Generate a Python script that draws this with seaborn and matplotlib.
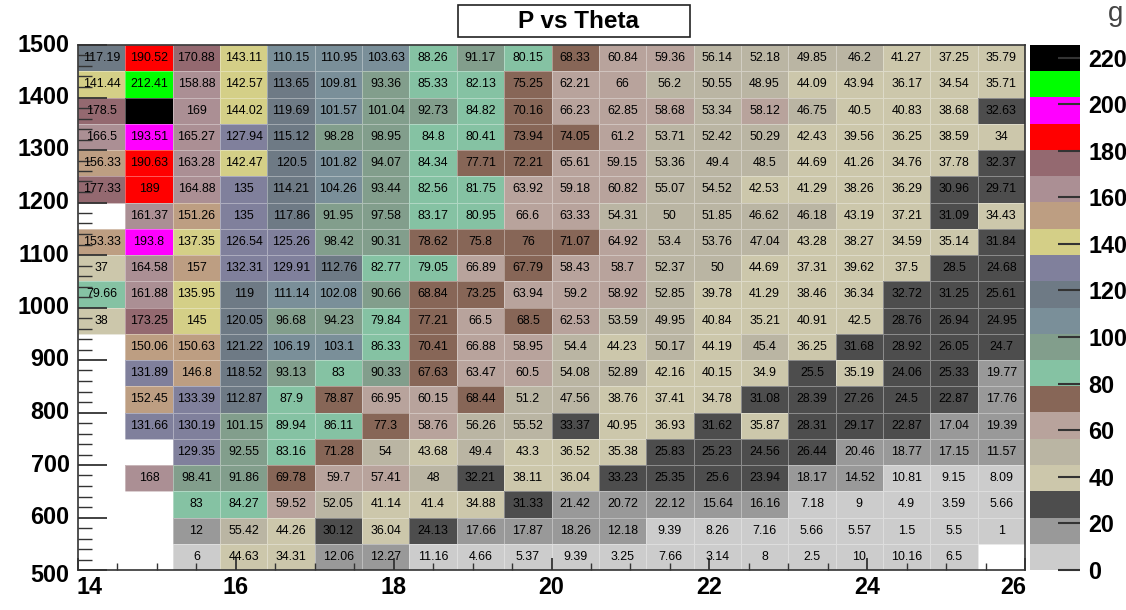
import numpy as np
import pandas as pd
import matplotlib
matplotlib.use("Agg")
import matplotlib.pyplot as plt
import matplotlib.transforms as mtransforms
from matplotlib.colors import ListedColormap
from matplotlib.patches import Rectangle
import seaborn as sns

# ---------------- data ----------------
theta_centers = [14.3, 14.9, 15.5, 16.1, 16.7, 17.3, 17.9, 18.5, 19.1, 19.7,
                 20.3, 20.9, 21.5, 22.1, 22.7, 23.3, 23.9, 24.5, 25.1, 25.7]
p_centers = [1475, 1425, 1375, 1325, 1275, 1225, 1175, 1125, 1075, 1025,
             975, 925, 875, 825, 775, 725, 675, 625, 575, 525]
N = None
values = [
    [117.19, 190.52, 170.88, 143.11, 110.15, 110.95, 103.63, 88.26, 91.17, 80.15, 68.33, 60.84, 59.36, 56.14, 52.18, 49.85, 46.2, 41.27, 37.25, 35.79],
    [141.44, 212.41, 158.88, 142.57, 113.65, 109.81, 93.36, 85.33, 82.13, 75.25, 62.21, 66, 56.2, 50.55, 48.95, 44.09, 43.94, 36.17, 34.54, 35.71],
    [178.5, 225.4, 169, 144.02, 119.69, 101.57, 101.04, 92.73, 84.82, 70.16, 66.23, 62.85, 58.68, 53.34, 58.12, 46.75, 40.5, 40.83, 38.68, 32.63],
    [166.5, 193.51, 165.27, 127.94, 115.12, 98.28, 98.95, 84.8, 80.41, 73.94, 74.05, 61.2, 53.71, 52.42, 50.29, 42.43, 39.56, 36.25, 38.59, 34],
    [156.33, 190.63, 163.28, 142.47, 120.5, 101.82, 94.07, 84.34, 77.71, 72.21, 65.61, 59.15, 53.36, 49.4, 48.5, 44.69, 41.26, 34.76, 37.78, 32.37],
    [177.33, 189, 164.88, 135, 114.21, 104.26, 93.44, 82.56, 81.75, 63.92, 59.18, 60.82, 55.07, 54.52, 42.53, 41.29, 38.26, 36.29, 30.96, 29.71],
    [N, 161.37, 151.26, 135, 117.86, 91.95, 97.58, 83.17, 80.95, 66.6, 63.33, 54.31, 50, 51.85, 46.62, 46.18, 43.19, 37.21, 31.09, 34.43],
    [153.33, 193.8, 137.35, 126.54, 125.26, 98.42, 90.31, 78.62, 75.8, 76, 71.07, 64.92, 53.4, 53.76, 47.04, 43.28, 38.27, 34.59, 35.14, 31.84],
    [37, 164.58, 157, 132.31, 129.91, 112.76, 82.77, 79.05, 66.89, 67.79, 58.43, 58.7, 52.37, 50, 44.69, 37.31, 39.62, 37.5, 28.5, 24.68],
    [79.66, 161.88, 135.95, 119, 111.14, 102.08, 90.66, 68.84, 73.25, 63.94, 59.2, 58.92, 52.85, 39.78, 41.29, 38.46, 36.34, 32.72, 31.25, 25.61],
    [38, 173.25, 145, 120.05, 96.68, 94.23, 79.84, 77.21, 66.5, 68.5, 62.53, 53.59, 49.95, 40.84, 35.21, 40.91, 42.5, 28.76, 26.94, 24.95],
    [N, 150.06, 150.63, 121.22, 106.19, 103.1, 86.33, 70.41, 66.88, 58.95, 54.4, 44.23, 50.17, 44.19, 45.4, 36.25, 31.68, 28.92, 26.05, 24.7],
    [N, 131.89, 146.8, 118.52, 93.13, 83, 90.33, 67.63, 63.47, 60.5, 54.08, 52.89, 42.16, 40.15, 34.9, 25.5, 35.19, 24.06, 25.33, 19.77],
    [N, 152.45, 133.39, 112.87, 87.9, 78.87, 66.95, 60.15, 68.44, 51.2, 47.56, 38.76, 37.41, 34.78, 31.08, 28.39, 27.26, 24.5, 22.87, 17.76],
    [N, 131.66, 130.19, 101.15, 89.94, 86.11, 77.3, 58.76, 56.26, 55.52, 33.37, 40.95, 36.93, 31.62, 35.87, 28.31, 29.17, 22.87, 17.04, 19.39],
    [N, N, 129.35, 92.55, 83.16, 71.28, 54, 43.68, 49.4, 43.3, 36.52, 35.38, 25.83, 25.23, 24.56, 26.44, 20.46, 18.77, 17.15, 11.57],
    [N, 168, 98.41, 91.86, 69.78, 59.7, 57.41, 48, 32.21, 38.11, 36.04, 33.23, 25.35, 25.6, 23.94, 18.17, 14.52, 10.81, 9.15, 8.09],
    [N, N, 83, 84.27, 59.52, 52.05, 41.14, 41.4, 34.88, 31.33, 21.42, 20.72, 22.12, 15.64, 16.16, 7.18, 9, 4.9, 3.59, 5.66],
    [N, N, 12, 55.42, 44.26, 30.12, 36.04, 24.13, 17.66, 17.87, 18.26, 12.18, 9.39, 8.26, 7.16, 5.66, 5.57, 1.5, 5.5, 1],
    [N, N, 6, 44.63, 34.31, 12.06, 12.27, 11.16, 4.66, 5.37, 9.39, 3.25, 7.66, 3.14, 8, 2.5, 10, 10.16, 6.5, N],
]
x_tick_values = [14, 16, 18, 20, 22, 24, 26]
y_tick_values = [500, 600, 700, 800, 900, 1000, 1100, 1200, 1300, 1400, 1500]
z_tick_values = [0, 20, 40, 60, 80, 100, 120, 140, 160, 180, 200, 220]
title = "P vs Theta"

# ROOT default palette colours used by the 20 contour levels
palette = ["#cccccc", "#999999", "#4d4d4d", "#ccc7ab", "#bab5a3", "#b8a39c",
           "#876657", "#85c2a3", "#829e8c", "#7a8f99", "#6e7a85", "#80809c",
           "#d4cf87", "#bd9e82", "#ab8f94", "#946970", "#ff0000", "#ff00ff",
           "#00ff00", "#000000"]

# ---------------- build ----------------
Z = np.array([[np.nan if v is None else v for v in row] for row in values], dtype=float)
df = pd.DataFrame(Z, index=p_centers, columns=theta_centers)
annot = np.array([["" if np.isnan(v) else "{:g}".format(v) for v in row] for row in Z])
zmax = np.nanmax(Z)
cmap = ListedColormap(palette)

plt.rcParams['font.family'] = ['Liberation Sans', 'DejaVu Sans']
W, H = 1126, 610
fig = plt.figure(figsize=(W / 100, H / 100), dpi=100)
fig.patch.set_facecolor("white")
ax = fig.add_axes([78 / W, 40 / H, 947 / W, 525 / H])
cax = fig.add_axes([1030 / W, 40 / H, 50 / W, 525 / H])

sns.heatmap(df, ax=ax, cbar_ax=cax, cmap=cmap, vmin=0, vmax=zmax,
            mask=np.isnan(Z), annot=annot, fmt="",
            annot_kws={"color": "black", "fontsize": 8.9},
            linewidths=0.6, linecolor=(1, 1, 1, 0.35))

# numeric axes on top of the categorical heatmap grid
nx, ny = len(theta_centers), len(p_centers)
half_dx = (theta_centers[1] - theta_centers[0]) / 2
half_dy = (p_centers[0] - p_centers[1]) / 2
x_lo, x_hi = theta_centers[0] - half_dx, theta_centers[-1] + half_dx
y_hi, y_lo = p_centers[0] + half_dy, p_centers[-1] - half_dy

def xpos(v):
    return np.interp(v, [x_lo, x_hi], [0, nx])

def ypos(v):
    return np.interp(v, [y_lo, y_hi], [ny, 0])

ax.set_xlim(0, nx)
ax.set_ylim(ny, 0)
ax.set_xticks([xpos(v) for v in x_tick_values])
ax.set_xticklabels([str(v) for v in x_tick_values], rotation=0)
ax.set_yticks([ypos(v) for v in y_tick_values])
ax.set_yticklabels([str(v) for v in y_tick_values], rotation=0)
ax.set_xticks([xpos(v) for v in np.arange(x_lo, x_hi + 0.01, 0.5)], minor=True)
ax.set_yticks([ypos(v) for v in np.arange(y_lo, y_hi + 1, 20)], minor=True)
ax.set_xlabel("")
ax.set_ylabel("")
ax.tick_params(axis="both", which="both", direction="in", color="#333333",
               labelsize=16.8)
ax.tick_params(axis="x", which="major", length=9, width=1.3, pad=4)
ax.tick_params(axis="x", which="minor", length=5, width=1.0)
ax.tick_params(axis="y", which="major", length=21, width=1.3, pad=6)
ax.tick_params(axis="y", which="minor", length=10, width=1.0)
for lab in ax.get_xticklabels() + ax.get_yticklabels():
    lab.set_fontweight("bold")
for s in ax.spines.values():
    s.set_visible(True)
    s.set_color("#333333")
    s.set_linewidth(1.2)

# end labels nudged inward as in the reference
xl = ax.get_xticklabels()
xl[0].set_transform(xl[0].get_transform() + mtransforms.ScaledTranslation(0.12, 0, fig.dpi_scale_trans))
xl[-1].set_transform(xl[-1].get_transform() + mtransforms.ScaledTranslation(-0.12, 0, fig.dpi_scale_trans))
yl = ax.get_yticklabels()
yl[0].set_transform(yl[0].get_transform() + mtransforms.ScaledTranslation(0, -0.06, fig.dpi_scale_trans))

# colour bar
cbar = ax.collections[0].colorbar
cbar.set_ticks(z_tick_values)
cbar.set_ticklabels([str(v) for v in z_tick_values])
cax.tick_params(axis="y", direction="in", length=16, width=1.5, color="#333333",
                labelsize=16.8, pad=6)
for lab in cax.get_yticklabels():
    lab.set_fontweight("bold")
cbar.outline.set_visible(False)

# title box
fig.patches.append(Rectangle((458 / W, 1 - 37 / H), 232 / W, 32 / H,
                             transform=fig.transFigure, facecolor="white",
                             edgecolor="#222222", linewidth=1.2, zorder=5))
fig.text(578 / W, 1 - 21 / H, title, ha="center", va="center",
         fontsize=17.5, fontweight="bold", zorder=6)
fig.text(1108 / W, 1 - 14 / H, "g", ha="left", va="center", fontsize=20,
         color="#444444")

fig.savefig("out.png", dpi=100)
